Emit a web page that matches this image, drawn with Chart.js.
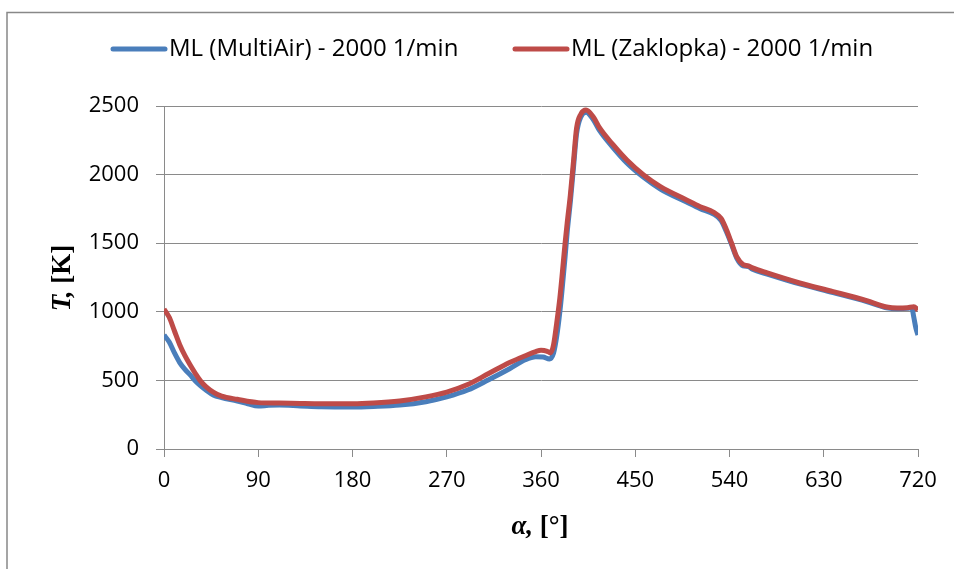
<!DOCTYPE html>
<html>
<head>
<meta charset="utf-8">
<script src="https://cdn.jsdelivr.net/npm/chart.js@4.4.1/dist/chart.umd.min.js"></script>
<style>
html,body{margin:0;padding:0;background:#fff;}
#wrap{width:954px;height:569px;}
</style>
</head>
<body>
<div id="wrap"><canvas id="c" width="954" height="569"></canvas></div>
<script>
// crank angle [deg]
const angleMultiAir = [0,5,10,15,20,25,30,35,40,47,55,70,80,90,100,110,130,150,180,200,225,250,270,290,310,330,345,355,362,368,372,375,378,380,383,385,388,391,394,398,403,410,416,429,442,458,474,499,512,525,532,537,542,547,553,558,562,576,607,639,671,690,700,710,714,716,718,720];
const tempMultiAir  = [830,780,700,630,580,540,495,460,430,394,375,350,330,313,318,320,314,308,306,310,320,345,380,430,505,585,650,672,670,656,700,820,1000,1150,1400,1580,1800,2050,2300,2420,2455,2400,2320,2195,2085,1980,1895,1800,1752,1712,1665,1585,1490,1390,1335,1330,1310,1275,1203,1140,1075,1030,1022,1025,1030,960,880,830];

const angleZaklopka = [0,5,10,15,20,25,30,35,40,47,55,70,90,110,130,150,180,200,225,250,270,290,310,330,345,355,360,366,369,372,375,378,380,383,385,388,391,394,398,403,410,416,429,442,458,474,499,512,525,532,537,542,547,553,558,562,576,607,639,671,690,700,710,716,720];
const tempZaklopka  = [1020,960,860,760,680,612,550,495,455,415,385,362,338,335,332,330,330,335,350,380,415,470,550,630,680,710,720,712,700,760,918,1100,1254,1500,1647,1850,2094,2340,2440,2470,2420,2340,2216,2106,1997,1912,1815,1766,1725,1680,1600,1500,1400,1345,1335,1320,1283,1210,1147,1081,1035,1027,1030,1037,1013];

const xTicks = [0,90,180,270,360,450,540,630,720];
const yTicks = [0,500,1000,1500,2000,2500];
const seriesNames = ['ML (MultiAir) - 2000 1/min', 'ML (Zaklopka) - 2000 1/min'];
const seriesColors = ['#4A7EBB', '#BE4B48'];

const toPoints = (xs, ys) => xs.map((x, i) => ({x: x, y: ys[i]}));

const GRID = '#8a8a8a';
const TICKFONT = {family: 'Open Sans', size: 22};

const decorPlugin = {
  id: 'decor',
  beforeDraw(chart) {
    const ctx = chart.ctx;
    ctx.save();
    ctx.fillStyle = '#fff';
    ctx.fillRect(0, 0, chart.width, chart.height);
    ctx.strokeStyle = '#888';
    ctx.lineWidth = 1.5;
    ctx.strokeRect(7, 12.5, 1200, 1200);
    ctx.restore();
  },
  afterDraw(chart) {
    const ctx = chart.ctx;
    ctx.save();
    // legend
    ctx.font = '24px "Open Sans"';
    ctx.textBaseline = 'middle';
    const legY = 49;
    const legX = [113, 515];
    for (let i = 0; i < 2; i++) {
      ctx.strokeStyle = seriesColors[i];
      ctx.lineWidth = 5;
      ctx.lineCap = 'round';
      ctx.beginPath();
      ctx.moveTo(legX[i], legY);
      ctx.lineTo(legX[i] + 52, legY);
      ctx.stroke();
      ctx.fillStyle = '#000';
      ctx.textAlign = 'left';
      ctx.fillText(seriesNames[i], legX[i] + 56, legY);
    }
    // y title: "T, [K]"
    ctx.save();
    ctx.translate(63, 278);
    ctx.rotate(-Math.PI / 2);
    const p1 = 'T,', p2 = ' [K]';
    ctx.font = 'italic bold 27px "Liberation Serif"';
    const w1 = ctx.measureText(p1).width;
    ctx.font = 'bold 27px "Liberation Serif"';
    const w2 = ctx.measureText(p2).width;
    let sx = -(w1 + w2) / 2;
    ctx.textAlign = 'left';
    ctx.textBaseline = 'middle';
    ctx.fillStyle = '#000';
    ctx.font = 'italic bold 27px "Liberation Serif"';
    ctx.fillText(p1, sx, 0);
    ctx.font = 'bold 27px "Liberation Serif"';
    ctx.fillText(p2, sx + w1, 0);
    ctx.restore();
    // x title: "α, [°]"
    const q1 = 'α,', q2 = ' [°]';
    ctx.font = 'italic bold 27px "Liberation Serif"';
    const v1 = ctx.measureText(q1).width;
    ctx.font = 'bold 27px "Liberation Serif"';
    const v2 = ctx.measureText(q2).width;
    let tx = 540 - (v1 + v2) / 2;
    ctx.textAlign = 'left';
    ctx.textBaseline = 'middle';
    ctx.fillStyle = '#000';
    ctx.font = 'italic bold 27px "Liberation Serif"';
    ctx.fillText(q1, tx, 527);
    ctx.font = 'bold 27px "Liberation Serif"';
    ctx.fillText(q2, tx + v1, 527);
    ctx.restore();
  }
};

new Chart(document.getElementById('c'), {
  type: 'line',
  data: {
    datasets: [
      {
        label: seriesNames[0],
        data: toPoints(angleMultiAir, tempMultiAir),
        borderColor: seriesColors[0],
        backgroundColor: seriesColors[0],
        borderWidth: 5,
        pointRadius: 0,
        cubicInterpolationMode: 'monotone',
        order: 2
      },
      {
        label: seriesNames[1],
        data: toPoints(angleZaklopka, tempZaklopka),
        borderColor: seriesColors[1],
        backgroundColor: seriesColors[1],
        borderWidth: 5,
        pointRadius: 0,
        cubicInterpolationMode: 'monotone',
        order: 1
      }
    ]
  },
  options: {
    responsive: false,
    animation: false,
    devicePixelRatio: 1,
    layout: {padding: {top: 106, right: 36, bottom: 0, left: 0}},
    plugins: {legend: {display: false}, tooltip: {enabled: false}},
    scales: {
      x: {
        type: 'linear',
        min: 0, max: 720,
        afterBuildTicks: (s) => { s.ticks = xTicks.map(v => ({value: v})); },
        afterFit: (s) => { s.height = 120; },
        grid: {display: true, drawOnChartArea: false, drawTicks: true, tickLength: 8, color: GRID, lineWidth: 1},
        border: {display: true, color: GRID, width: 1},
        ticks: {color: '#000', font: TICKFONT, padding: 11, maxRotation: 0, autoSkip: false,
                callback: (v) => String(v)}
      },
      y: {
        type: 'linear',
        min: 0, max: 2500,
        afterBuildTicks: (s) => { s.ticks = yTicks.map(v => ({value: v})); },
        afterFit: (s) => { s.width = 164; },
        grid: {display: true, drawOnChartArea: true, drawTicks: true, tickLength: 8, color: GRID, lineWidth: 1},
        border: {display: true, color: GRID, width: 1},
        ticks: {color: '#000', font: TICKFONT, padding: 17, autoSkip: false,
                callback: (v) => String(v)}
      }
    }
  },
  plugins: [decorPlugin]
});
</script>
</body>
</html>
